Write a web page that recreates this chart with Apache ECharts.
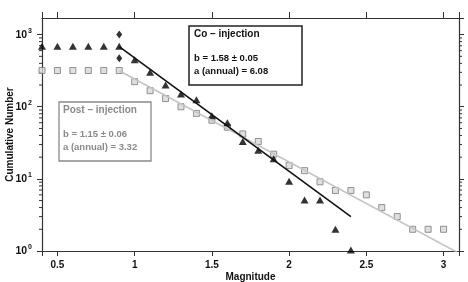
<!DOCTYPE html>
<html>
<head>
<meta charset="utf-8">
<script src="https://cdn.jsdelivr.net/npm/echarts@6/dist/echarts.min.js"></script>
<style>
  html, body { margin: 0; padding: 0; background: #fff; }
  #chart { width: 468px; height: 282px; }
</style>
</head>
<body>
<div id="chart"></div>
<script>
const FONT = 'Liberation Sans, Arial, Helvetica, sans-serif';

// magnitudes (x) and cumulative counts (y)
const coMag = [0.4, 0.5, 0.6, 0.7, 0.8, 0.9, 1.0, 1.1, 1.2, 1.3, 1.4, 1.5, 1.6, 1.7, 1.8, 1.9, 2.0, 2.1, 2.2, 2.3, 2.4];
const coCount = [690, 690, 690, 690, 690, 690, 450, 300, 200, 150, 125, 75, 60, 33, 25, 19, 9.3, 5.1, 5.1, 2.0, 1.03];

const postMag = [0.4, 0.5, 0.6, 0.7, 0.8, 0.9, 1.0, 1.1, 1.2, 1.3, 1.4, 1.5, 1.6, 1.7, 1.8, 1.9, 2.0, 2.1, 2.2, 2.3, 2.4, 2.5, 2.6, 2.7, 2.8, 2.9, 3.0];
const postCount = [318, 318, 318, 318, 318, 318, 223, 167, 130, 100, 81, 65, 52, 42, 33, 22, 15.3, 13, 9.1, 6.9, 6.9, 6.0, 4.0, 3.0, 2.0, 2.0, 2.0];

const diamondMag = [0.9, 0.9];
const diamondCount = [1000, 470];

// fitted lines (end points)
const coFitMag = [0.9, 2.4];
const coFitCount = [680, 3.0];
const postFitMag = [0.9, 3.1];
const postFitCount = [315, 0.93];

const xTicks = [0.5, 1, 1.5, 2, 2.5, 3];
const yDecades = [1, 10, 100, 1000];
const minorFactors = [2, 3, 4, 5, 6, 7, 8, 9];

const X_MIN = 0.4, X_MAX = 3.1, Y_MIN = 1, Y_MAX = 1700;

const minorVals = [];
yDecades.forEach(d => minorFactors.forEach(f => {
  if (d * f <= Y_MAX) minorVals.push(d * f);
}));

const zip = (a, b) => a.map((v, i) => [v, b[i]]);

const chart = echarts.init(document.getElementById('chart'));

const axisLine = { show: true, lineStyle: { color: '#333', width: 1.2 } };

const option = {
  animation: false,
  backgroundColor: '#fff',
  grid: { left: 42, right: 9, top: 18, bottom: 31, outerBoundsMode: 'none', containLabel: false },
  xAxis: [
    {
      type: 'value', min: X_MIN, max: X_MAX, splitNumber: 5,
      position: 'bottom',
      name: 'Magnitude', nameLocation: 'middle', nameGap: 21, nameMoveOverlap: false,
      nameTextStyle: { fontFamily: FONT, fontWeight: 'bold', fontSize: 10, color: '#111' },
      axisLine,
      axisTick: { show: true, inside: false, length: 5, lineStyle: { color: '#333' } },
      splitLine: { show: false },
      axisLabel: {
        margin: 9, fontFamily: FONT, fontWeight: 'bold', fontSize: 10, color: '#111',
        formatter: v => xTicks.some(t => Math.abs(t - v) < 1e-6) ? String(v) : ''
      }
    },
    {
      type: 'value', min: X_MIN, max: X_MAX, splitNumber: 5,
      position: 'top',
      axisLine,
      axisTick: { show: true, inside: false, length: 6, lineStyle: { color: '#333' } },
      splitLine: { show: false },
      axisLabel: { show: false }
    }
  ],
  yAxis: [
    {
      type: 'log', logBase: 10, min: Y_MIN, max: Y_MAX,
      position: 'left',
      name: 'Cumulative Number', nameLocation: 'middle', nameGap: 27, nameRotate: 90, nameMoveOverlap: false,
      nameTextStyle: { fontFamily: FONT, fontWeight: 'bold', fontSize: 10, color: '#111' },
      axisLine,
      axisTick: { show: true, inside: false, length: 5, lineStyle: { color: '#333' } },
      splitLine: { show: false },
      axisLabel: {
        margin: 10, showMaxLabel: false,
        formatter: v => {
          const e = Math.round(Math.log10(v));
          if (Math.abs(Math.pow(10, e) - v) > 1e-6 * v) return '';
          return '{b|10}{e|' + e + '}';
        },
        rich: {
          b: { fontFamily: FONT, fontWeight: 'bold', fontSize: 10.5, color: '#111' },
          e: { fontFamily: FONT, fontWeight: 'bold', fontSize: 7, color: '#111', padding: [0, 0, 7, 1] }
        }
      }
    },
    {
      type: 'log', logBase: 10, min: Y_MIN, max: Y_MAX,
      position: 'right',
      axisLine,
      axisTick: { show: true, inside: false, length: 5, lineStyle: { color: '#333' } },
      splitLine: { show: false },
      axisLabel: { show: false }
    }
  ],
  series: [
    {
      // minor ticks for both log axes
      type: 'custom',
      silent: true,
      clip: false,
      data: minorVals.map(v => [X_MIN, v]),
      renderItem: (params, api) => {
        const v = api.value(1);
        const pl = api.coord([X_MIN, v]);
        const pr = api.coord([X_MAX, v]);
        const style = { stroke: '#333', lineWidth: 1 };
        return {
          type: 'group',
          children: [
            { type: 'line', shape: { x1: pl[0] - 3, y1: pl[1], x2: pl[0], y2: pl[1] }, style },
            { type: 'line', shape: { x1: pr[0], y1: pr[1], x2: pr[0] + 3, y2: pr[1] }, style }
          ]
        };
      }
    },
    {
      name: 'Post fit', type: 'line', data: zip(postFitMag, postFitCount),
      symbol: 'none', clip: true,
      lineStyle: { color: '#c4c4c4', width: 1.6 }
    },
    {
      name: 'Co fit', type: 'line', data: zip(coFitMag, coFitCount),
      symbol: 'none',
      lineStyle: { color: '#111', width: 1.6 }
    },
    {
      name: 'Post-injection', type: 'scatter', data: zip(postMag, postCount),
      symbol: 'rect', symbolSize: 6,
      itemStyle: { color: '#d8d8d8', borderColor: '#7a7a7a', borderWidth: 1 }
    },
    {
      name: 'Co-injection', type: 'scatter', data: zip(coMag, coCount),
      symbol: 'triangle', symbolSize: [8, 7],
      itemStyle: { color: '#000' }
    },
    {
      name: 'Diamonds', type: 'scatter', data: zip(diamondMag, diamondCount),
      symbol: 'diamond', symbolSize: [6, 8],
      itemStyle: { color: '#000' }
    }
  ],
  graphic: [
    {
      type: 'rect', shape: { x: 189, y: 26, width: 113, height: 59 },
      style: { fill: '#fff', stroke: '#222', lineWidth: 1.5 }, z: 10
    },
    {
      type: 'text', x: 194, y: 29, z: 11,
      style: {
        text: 'Co – injection', font: 'bold 10px ' + FONT, fill: '#111'
      }
    },
    {
      type: 'text', x: 194, y: 52, z: 11,
      style: {
        text: 'b = 1.58 ± 0.05\na (annual) = 6.08', font: 'bold 9.5px ' + FONT, fill: '#111', lineHeight: 13
      }
    },
    {
      type: 'rect', shape: { x: 59, y: 102, width: 92, height: 59 },
      style: { fill: '#fff', stroke: '#8a8a8a', lineWidth: 1.3 }, z: 10
    },
    {
      type: 'text', x: 63, y: 105, z: 11,
      style: {
        text: 'Post – injection', font: 'bold 10px ' + FONT, fill: '#8a8a8a'
      }
    },
    {
      type: 'text', x: 63, y: 128, z: 11,
      style: {
        text: 'b = 1.15 ± 0.06\na (annual) = 3.32', font: 'bold 9.5px ' + FONT, fill: '#8a8a8a', lineHeight: 13
      }
    }
  ]
};

chart.setOption(option);
</script>
</body>
</html>
